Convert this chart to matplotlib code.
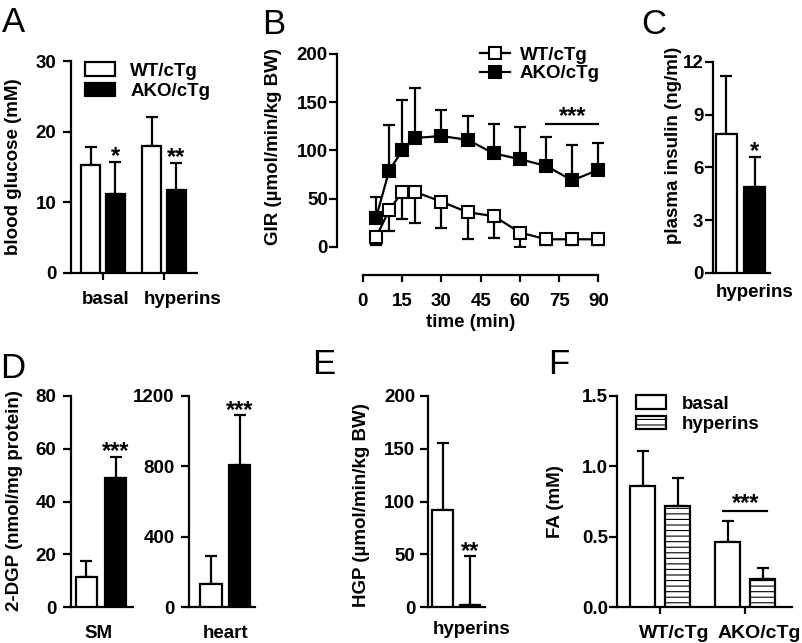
import matplotlib
matplotlib.use('Agg')
import matplotlib.pyplot as plt
import numpy as np
from matplotlib.patches import Patch

plt.rcParams['font.family'] = ['Liberation Sans', 'DejaVu Sans']
plt.rcParams['font.weight'] = 'bold'
plt.rcParams['font.size'] = 13.5
plt.rcParams['hatch.linewidth'] = 0.8
plt.rcParams['axes.linewidth'] = 1.6

FS = 13.5

# A - blood glucose
glu_groups = ['basal', 'hyperins']
wt_glu = [15.3, 18.0]
wt_glu_err = [2.6, 4.1]
ako_glu = [11.2, 11.8]
ako_glu_err = [4.5, 3.8]
glu_sig = ['*', '**']

# B - GIR time course
t_min = [5, 10, 15, 20, 30, 40, 50, 60, 70, 80, 90]
wt_gir = [10, 38, 57, 57, 47, 36, 32, 15, 8, 8, 8]
wt_gir_err = [8, 21, 28, 32, 27, 28, 23, 15, 6, 6, 6]
ako_gir = [30, 79, 100, 113, 115, 111, 97, 91, 84, 69, 80]
ako_gir_err = [22, 47, 52, 52, 27, 25, 30, 33, 30, 37, 28]
gir_sig_span = [70, 90]
gir_sig_level = 127

# C - plasma insulin
ins_vals = [7.9, 4.9]
ins_err = [3.3, 1.7]

# D - 2-DGP
dgp_sm = [11.5, 49]
dgp_sm_err = [6, 8]
dgp_heart = [130, 810]
dgp_heart_err = [160, 280]

# E - HGP
hgp_vals = [92, 2]
hgp_err = [63, 46]

# F - FA
fa_groups = ['WT/cTg', 'AKO/cTg']
fa_basal = [0.86, 0.46]
fa_basal_err = [0.25, 0.15]
fa_hyp = [0.72, 0.20]
fa_hyp_err = [0.20, 0.08]
fa_sig_level = 0.68

W, H = 802, 643
fig = plt.figure(figsize=(W / 100, H / 100), dpi=100)


def px_axes(left, top, right, bottom):
    return fig.add_axes([left / W, 1 - bottom / H, (right - left) / W, (bottom - top) / H])


def style(ax, ypad):
    ax.spines['top'].set_visible(False)
    ax.spines['right'].set_visible(False)
    ax.tick_params(axis='y', direction='out', length=5.5, width=1.6, pad=ypad, labelsize=FS)
    ax.tick_params(axis='x', direction='out', length=5, width=1.6, labelsize=FS)


def ftext(x, y, s, **kw):
    fig.text(x / W, 1 - y / H, s, **kw)


def ylab(x, y, s):
    ftext(x, y, s, rotation=90, ha='center', va='center', fontsize=FS, fontweight='bold')


def letter(x, y, s):
    ftext(x, y, s, ha='left', va='top', fontsize=25, fontweight='normal')


def stars(ax, x, y, s):
    ax.annotate(s, xy=(x, y), xytext=(0, -1), textcoords='offset points',
                ha='center', va='baseline', fontsize=17, fontweight='bold', clip_on=False)


bar_kw = dict(edgecolor='black', linewidth=1.6, zorder=3)
err_kw = dict(fmt='none', ecolor='black', elinewidth=1.6, capsize=4.5, capthick=1.6, zorder=2)
leg_kw = dict(frameon=False, borderpad=0, handlelength=1.6, handleheight=0.75, handletextpad=0.8,
              labelspacing=0.15, prop={'weight': 'bold', 'size': FS})

# ---------- A ----------
axA = px_axes(71, 61, 197, 273)
x = np.arange(len(glu_groups))
off, w = 0.2, 0.31
axA.errorbar(x - off, wt_glu, yerr=[np.zeros(2), wt_glu_err], **err_kw)
axA.errorbar(x + off, ako_glu, yerr=[np.zeros(2), ako_glu_err], **err_kw)
axA.bar(x - off, wt_glu, w, color='white', **bar_kw)
axA.bar(x + off, ako_glu, w, color='black', **bar_kw)
axA.set_ylim(0, 30)
axA.set_xlim(-0.525, 1.54)
axA.set_yticks([0, 10, 20, 30])
axA.set_xticks(x)
axA.set_xticklabels([])
axA.set_xticks(x + np.array([0.05, 0.3]), minor=True)
axA.set_xticklabels(glu_groups, minor=True)
style(axA, 5)
axA.tick_params(axis='x', which='minor', length=0, pad=13, labelsize=FS)
for i, s in enumerate(glu_sig):
    stars(axA, x[i] + off, ako_glu[i] + ako_glu_err[i], s)
axA.legend(handles=[Patch(facecolor='white', edgecolor='black', linewidth=1.6, label='WT/cTg'),
                    Patch(facecolor='black', edgecolor='black', linewidth=1.6, label='AKO/cTg')],
           loc='upper left', bbox_to_anchor=(76 / W, 1 - 53 / H), bbox_transform=fig.transFigure,
           **leg_kw)
ylab(14, 167, 'blood glucose (mM)')
letter(2, 6, 'A')

# ---------- B ----------
axB = px_axes(337, 54, 605, 247)
axB.errorbar(t_min, wt_gir, yerr=[wt_gir_err, np.zeros(len(t_min))], fmt='none', ecolor='black',
             elinewidth=1.6, capsize=4, capthick=1.6, zorder=2)
axB.errorbar(t_min, ako_gir, yerr=[np.zeros(len(t_min)), ako_gir_err], fmt='none', ecolor='black',
             elinewidth=1.6, capsize=4, capthick=1.6, zorder=2)
axB.plot(t_min, wt_gir, color='black', lw=1.6, marker='s', ms=8, mfc='white', mec='black', mew=1.5,
         zorder=4, label='WT/cTg')
axB.plot(t_min, ako_gir, color='black', lw=1.6, marker='s', ms=8, mfc='black', mec='black', mew=1.5,
         zorder=4, label='AKO/cTg')
axB.set_ylim(0, 200)
axB.set_xlim(-9.9, 92.5)
axB.set_yticks([0, 50, 100, 150, 200])
axB.set_xticks([0, 15, 30, 45, 60, 75, 90])
style(axB, 1)
axB.tick_params(axis='x', pad=8)
axB.spines['bottom'].set_position(('outward', 20))
axB.spines['bottom'].set_bounds(0, 90)
axB.spines['left'].set_bounds(0, 200)
axB.plot(gir_sig_span, [gir_sig_level] * 2, color='black', lw=1.6, clip_on=False)
stars(axB, np.mean(gir_sig_span), gir_sig_level + 3, '***')
axB.set_xlabel('time (min)', fontsize=FS, fontweight='bold', labelpad=3)
axB.legend(loc='upper left', bbox_to_anchor=(471 / W, 1 - 37 / H), bbox_transform=fig.transFigure,
           frameon=False, borderpad=0, handlelength=1.6, handletextpad=0.5, labelspacing=0.1,
           prop={'weight': 'bold', 'size': FS})
ylab(273, 147, 'GIR (\u00b5mol/min/kg BW)')
letter(262, 8, 'B')

# ---------- C ----------
axC = px_axes(713, 62, 770, 273)
xc = np.arange(2)
axC.errorbar(xc, ins_vals, yerr=[np.zeros(2), ins_err], **err_kw)
axC.bar(xc, ins_vals, 0.74, color=['white', 'black'], **bar_kw)
axC.set_ylim(0, 12)
axC.set_xlim(-0.47, 1.53)
axC.set_yticks([0, 3, 6, 9, 12])
axC.set_xticks([1])
axC.set_xticklabels(['hyperins'])
style(axC, 1.5)
axC.tick_params(axis='x', length=0, pad=8)
stars(axC, 1, ins_vals[1] + ins_err[1], '*')
ylab(673, 145, 'plasma insulin (ng/ml)')
letter(641, 8, 'C')

# ---------- D ----------
axD1 = px_axes(71, 396, 133, 607)
axD1.errorbar(xc, dgp_sm, yerr=[np.zeros(2), dgp_sm_err], **err_kw)
axD1.bar(xc, dgp_sm, 0.72, color=['white', 'black'], **bar_kw)
axD1.set_ylim(0, 80)
axD1.set_xlim(-0.53, 1.6)
axD1.set_yticks([0, 20, 40, 60, 80])
axD1.set_xticks([0.4])
axD1.set_xticklabels(['SM'])
style(axD1, 5)
axD1.tick_params(axis='x', length=0, pad=13)
stars(axD1, 1, dgp_sm[1] + dgp_sm_err[1], '***')

axD2 = px_axes(189, 396, 255, 607)
axD2.errorbar(xc, dgp_heart, yerr=[np.zeros(2), dgp_heart_err], **err_kw)
axD2.bar(xc, dgp_heart, 0.74, color=['white', 'black'], **bar_kw)
axD2.set_ylim(0, 1200)
axD2.set_xlim(-0.77, 1.54)
axD2.set_yticks([0, 400, 800, 1200])
axD2.set_xticks([0.5])
axD2.set_xticklabels(['heart'])
style(axD2, 5)
axD2.tick_params(axis='x', length=0, pad=13)
stars(axD2, 1, dgp_heart[1] + dgp_heart_err[1], '***')
ylab(15, 501, '2-DGP (nmol/mg protein)')
letter(0, 352, 'D')

# ---------- E ----------
axE = px_axes(428, 396, 485, 607)
axE.errorbar(xc, hgp_vals, yerr=[np.zeros(2), hgp_err], **err_kw)
axE.bar(xc, hgp_vals, 0.74, color=['white', 'black'], **bar_kw)
axE.set_ylim(0, 200)
axE.set_xlim(-0.53, 1.55)
axE.set_yticks([0, 50, 100, 150, 200])
axE.set_xticks([1.05])
axE.set_xticklabels(['hyperins'])
style(axE, 3.5)
axE.tick_params(axis='x', length=0, pad=10)
stars(axE, 1, hgp_vals[1] + hgp_err[1], '**')
ylab(362, 505, 'HGP (\u00b5mol/min/kg BW)')
letter(312, 348, 'E')

# ---------- F ----------
axF = px_axes(617, 396, 792, 607)
xf = np.arange(len(fa_groups))
offf, wf = 0.206, 0.29
axF.errorbar(xf - offf, fa_basal, yerr=[np.zeros(2), fa_basal_err], **err_kw)
axF.errorbar(xf + offf, fa_hyp, yerr=[np.zeros(2), fa_hyp_err], **err_kw)
axF.bar(xf - offf, fa_basal, wf, color='white', **bar_kw)
axF.bar(xf + offf, fa_hyp, wf, color='white', hatch='---', **bar_kw)
axF.set_ylim(0, 1.5)
axF.set_xlim(-0.506, 1.55)
axF.set_yticks([0, 0.5, 1.0, 1.5])
axF.set_yticklabels(['0.0', '0.5', '1.0', '1.5'])
axF.set_xticks(xf)
axF.set_xticklabels([])
axF.set_xticks(xf + 0.165, minor=True)
axF.set_xticklabels(fa_groups, minor=True)
style(axF, 1)
axF.tick_params(axis='x', which='minor', length=0, pad=13, labelsize=FS + 0.5)
axF.plot([1 - offf - 0.05, 1 + offf + 0.05], [fa_sig_level] * 2, color='black', lw=1.6)
stars(axF, 1, fa_sig_level + 0.02, '***')
axF.legend(handles=[Patch(facecolor='white', edgecolor='black', linewidth=1.6, label='basal'),
                    Patch(facecolor='white', edgecolor='black', linewidth=1.6, hatch='---', label='hyperins')],
           loc='upper left', bbox_to_anchor=(627 / W, 1 - 386 / H), bbox_transform=fig.transFigure,
           **leg_kw)
ylab(555, 502, 'FA (mM)')
letter(548, 348, 'F')

fig.savefig('out.png', dpi=100)
